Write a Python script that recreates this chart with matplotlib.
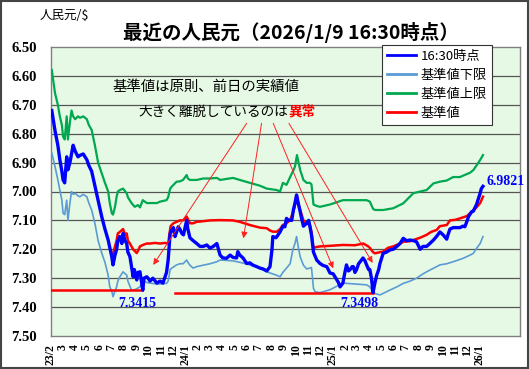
import matplotlib
matplotlib.use('Agg')
import matplotlib.pyplot as plt
import pandas as pd
from matplotlib.patches import Rectangle

plt.rcParams['font.family'] = ['Noto Sans CJK JP', 'DejaVu Sans']

# ---------------- data ----------------
spot_dates = [
    "2023-02-03", "2023-02-11", "2023-02-18", "2023-02-23", "2023-02-28", "2023-03-03", "2023-03-07",
    "2023-03-12", "2023-03-15", "2023-03-20", "2023-03-24", "2023-03-28", "2023-04-02", "2023-04-09",
    "2023-04-14", "2023-04-22", "2023-05-01", "2023-05-06", "2023-05-13", "2023-05-21", "2023-05-29",
    "2023-06-07", "2023-06-15", "2023-06-23", "2023-07-02", "2023-07-05", "2023-07-10", "2023-07-14",
    "2023-07-17", "2023-07-22", "2023-07-27", "2023-07-30", "2023-08-04", "2023-08-08", "2023-08-11",
    "2023-08-16", "2023-08-24", "2023-08-27", "2023-09-02", "2023-09-05", "2023-09-10", "2023-09-17",
    "2023-09-20", "2023-09-27", "2023-09-30", "2023-10-05", "2023-10-12", "2023-10-22", "2023-10-30",
    "2023-11-06", "2023-11-15", "2023-11-19", "2023-11-21", "2023-11-24", "2023-11-28", "2023-12-02",
    "2023-12-06", "2023-12-10", "2023-12-14", "2023-12-18", "2023-12-23", "2023-12-27", "2024-01-04",
    "2024-01-07", "2024-01-12", "2024-01-20", "2024-01-29", "2024-02-06", "2024-02-14", "2024-02-23",
    "2024-03-02", "2024-03-10", "2024-03-19", "2024-03-27", "2024-04-03", "2024-04-12", "2024-04-21",
    "2024-04-28", "2024-05-07", "2024-05-10", "2024-05-15", "2024-05-23", "2024-06-01", "2024-06-09",
    "2024-06-17", "2024-06-26", "2024-07-04", "2024-07-12", "2024-07-21", "2024-07-29", "2024-08-03",
    "2024-08-05", "2024-08-13", "2024-08-23", "2024-08-30", "2024-09-04", "2024-09-08", "2024-09-12",
    "2024-09-21", "2024-09-25", "2024-09-29", "2024-10-03", "2024-10-07", "2024-10-12", "2024-10-15",
    "2024-10-20", "2024-10-28", "2024-11-02", "2024-11-05", "2024-11-09", "2024-11-14", "2024-11-22",
    "2024-11-30", "2024-12-08", "2024-12-17", "2024-12-25", "2025-01-02", "2025-01-11", "2025-01-15",
    "2025-01-19", "2025-01-26", "2025-01-31", "2025-02-04", "2025-02-09", "2025-02-13", "2025-02-18",
    "2025-02-21", "2025-02-25", "2025-03-01", "2025-03-06", "2025-03-10", "2025-03-17", "2025-03-22",
    "2025-03-26", "2025-03-31", "2025-04-03", "2025-04-07", "2025-04-11", "2025-04-15", "2025-04-20",
    "2025-04-25", "2025-04-28", "2025-05-06", "2025-05-14", "2025-05-23", "2025-05-31", "2025-06-09",
    "2025-06-17", "2025-06-25", "2025-07-03", "2025-07-12", "2025-07-20", "2025-07-28", "2025-08-06",
    "2025-08-13", "2025-08-22", "2025-08-30", "2025-09-08", "2025-09-16", "2025-09-24", "2025-10-02",
    "2025-10-11", "2025-10-14", "2025-10-19", "2025-10-27", "2025-11-04", "2025-11-13", "2025-11-20",
    "2025-11-25", "2025-11-30", "2025-12-04", "2025-12-12", "2025-12-16", "2025-12-24", "2026-01-02",
    "2026-01-05", "2026-01-09",
]
spot_values = [
    6.72, 6.79, 6.84, 6.89, 6.93, 6.96, 6.97,
    6.88, 6.925, 6.90, 6.87, 6.84, 6.86, 6.88,
    6.875, 6.87, 6.89, 6.91, 6.93, 6.98, 7.03,
    7.087, 7.13, 7.168, 7.226, 7.254, 7.22, 7.20,
    7.17, 7.156, 7.18, 7.145, 7.17, 7.18, 7.21,
    7.225, 7.295, 7.27, 7.306, 7.28, 7.278, 7.3415,
    7.30, 7.295, 7.30, 7.31, 7.30, 7.317, 7.31,
    7.317, 7.28, 7.237, 7.20, 7.145, 7.133, 7.125,
    7.156, 7.14, 7.122, 7.13, 7.145, 7.15, 7.10,
    7.13, 7.16, 7.17, 7.18, 7.19, 7.19, 7.185,
    7.196, 7.19, 7.18, 7.22, 7.23, 7.231, 7.22,
    7.228, 7.23, 7.208, 7.22, 7.23, 7.249, 7.247,
    7.255, 7.26, 7.265, 7.268, 7.275, 7.26, 7.20,
    7.156, 7.16, 7.14, 7.12, 7.122, 7.093, 7.099,
    7.10, 7.064, 7.04, 7.012, 7.04, 7.07, 7.09,
    7.12, 7.11, 7.10, 7.12, 7.15, 7.21, 7.237,
    7.249, 7.256, 7.26, 7.282, 7.285, 7.306, 7.315,
    7.33, 7.317, 7.28, 7.254, 7.275, 7.27, 7.26,
    7.26, 7.28, 7.27, 7.25, 7.243, 7.23, 7.24,
    7.254, 7.27, 7.27, 7.30, 7.3498, 7.32, 7.29,
    7.27, 7.25, 7.214, 7.21, 7.202, 7.20, 7.19,
    7.18, 7.162, 7.17, 7.168, 7.17, 7.174, 7.20,
    7.19, 7.19, 7.18, 7.168, 7.155, 7.14, 7.15,
    7.165, 7.15, 7.13, 7.125, 7.125, 7.125, 7.12,
    7.122, 7.104, 7.087, 7.07, 7.068, 7.045, 7.006,
    6.99, 6.9821,
]

base_dates = [
    "2023-07-05", "2023-07-10", "2023-07-14", "2023-07-17", "2023-07-22", "2023-07-30", "2023-08-04",
    "2023-08-08", "2023-08-11", "2023-08-16", "2023-08-24", "2023-09-02", "2023-09-05", "2023-09-10",
    "2023-09-17", "2023-09-27", "2023-10-05", "2023-10-17", "2023-10-30", "2023-11-11", "2023-11-19",
    "2023-11-22", "2023-11-25", "2023-12-02", "2023-12-10", "2023-12-18", "2023-12-26", "2024-01-04",
    "2024-01-07", "2024-01-12", "2024-01-20", "2024-01-29", "2024-02-06", "2024-03-02", "2024-03-27",
    "2024-04-28", "2024-05-15", "2024-06-09", "2024-07-04", "2024-07-21", "2024-07-29", "2024-08-05",
    "2024-08-15", "2024-08-23", "2024-08-30", "2024-09-08", "2024-09-17", "2024-09-25", "2024-09-29",
    "2024-10-03", "2024-10-07", "2024-10-12", "2024-10-20", "2024-10-28", "2024-11-05", "2024-11-09",
    "2024-11-14", "2024-11-22", "2024-11-30", "2024-12-25", "2025-01-26", "2025-02-25", "2025-03-18",
    "2025-03-30", "2025-04-03", "2025-04-11", "2025-04-16", "2025-04-28", "2025-05-06", "2025-05-18",
    "2025-05-31", "2025-06-17", "2025-06-25", "2025-07-12", "2025-07-20", "2025-08-06", "2025-08-22",
    "2025-09-02", "2025-09-16", "2025-09-24", "2025-10-11", "2025-10-19", "2025-11-01", "2025-11-13",
    "2025-11-30", "2025-12-08", "2025-12-16", "2025-12-24", "2026-01-02", "2026-01-09",
]
base_values = [
    7.215, 7.19, 7.17, 7.145, 7.14, 7.13, 7.15,
    7.145, 7.17, 7.18, 7.20, 7.213, 7.205, 7.19,
    7.185, 7.18, 7.18, 7.178, 7.18, 7.178, 7.18,
    7.15, 7.12, 7.11, 7.105, 7.10, 7.10, 7.087,
    7.095, 7.11, 7.11, 7.105, 7.104, 7.10, 7.099,
    7.10, 7.105, 7.116, 7.125, 7.127, 7.135, 7.139,
    7.139, 7.13, 7.116, 7.11, 7.099, 7.07, 7.047,
    7.012, 7.04, 7.064, 7.10, 7.11, 7.116, 7.14,
    7.195, 7.192, 7.19, 7.188, 7.185, 7.186, 7.18,
    7.19, 7.195, 7.21, 7.214, 7.21, 7.208, 7.195,
    7.19, 7.18, 7.174, 7.172, 7.168, 7.16, 7.15,
    7.14, 7.133, 7.12, 7.116, 7.10, 7.098, 7.093,
    7.085, 7.075, 7.065, 7.055, 7.04, 7.018,
]

upper_dates = [
    "2023-02-03", "2023-02-11", "2023-02-18", "2023-02-23", "2023-02-28", "2023-03-03", "2023-03-07",
    "2023-03-12", "2023-03-15", "2023-03-20", "2023-03-24", "2023-03-28", "2023-04-02", "2023-04-09",
    "2023-04-14", "2023-04-22", "2023-05-01", "2023-05-06", "2023-05-13", "2023-05-21", "2023-05-29",
    "2023-06-07", "2023-06-15", "2023-06-23", "2023-06-27", "2023-07-02", "2023-07-05", "2023-07-10",
    "2023-07-14", "2023-07-17", "2023-07-22", "2023-07-30", "2023-08-08", "2023-08-11", "2023-08-20",
    "2023-08-28", "2023-09-05", "2023-09-10", "2023-09-17", "2023-09-27", "2023-10-05", "2023-10-22",
    "2023-10-30", "2023-11-15", "2023-11-19", "2023-11-24", "2023-11-28", "2023-12-10", "2023-12-18",
    "2023-12-26", "2024-01-04", "2024-01-07", "2024-01-12", "2024-01-29", "2024-02-14", "2024-03-02",
    "2024-03-19", "2024-03-27", "2024-04-28", "2024-05-15", "2024-06-09", "2024-07-04", "2024-07-21",
    "2024-08-15", "2024-08-23", "2024-08-30", "2024-09-08", "2024-09-17", "2024-09-24", "2024-09-29",
    "2024-10-04", "2024-10-12", "2024-10-20", "2024-10-28", "2024-11-05", "2024-11-09", "2024-11-14",
    "2024-11-22", "2024-11-30", "2024-12-25", "2025-01-26", "2025-02-25", "2025-03-26", "2025-04-03",
    "2025-04-11", "2025-04-16", "2025-05-06", "2025-05-31", "2025-06-25", "2025-07-20", "2025-08-06",
    "2025-08-22", "2025-09-08", "2025-09-24", "2025-10-11", "2025-10-27", "2025-11-13", "2025-11-21",
    "2025-12-08", "2025-12-16", "2025-12-24", "2026-01-02", "2026-01-09",
]
upper_values = [
    6.58, 6.66, 6.70, 6.74, 6.77, 6.81, 6.82,
    6.74, 6.82, 6.76, 6.72, 6.74, 6.75, 6.74,
    6.745, 6.74, 6.75, 6.77, 6.787, 6.84, 6.90,
    6.937, 6.97, 7.00, 7.04, 7.075, 7.08, 7.053,
    7.018, 7.00, 6.995, 6.99, 7.006, 7.02, 7.04,
    7.053, 7.047, 7.055, 7.03, 7.04, 7.04, 7.04,
    7.035, 7.03, 7.02, 6.99, 6.983, 6.966, 6.965,
    6.96, 6.943, 6.955, 6.96, 6.96, 6.955, 6.955,
    6.953, 6.96, 6.953, 6.96, 6.97, 6.98, 6.99,
    6.995, 7.00, 6.97, 6.977, 6.95, 6.93, 6.914,
    6.874, 6.926, 6.96, 6.97, 6.97, 6.975, 7.045,
    7.05, 7.053, 7.045, 7.03, 7.03, 7.03, 7.035,
    7.06, 7.064, 7.064, 7.058, 7.041, 7.006, 7.00,
    6.995, 6.972, 6.966, 6.962, 6.95, 6.95, 6.945,
    6.935, 6.926, 6.91, 6.891, 6.874,
]

lower_dates = [
    "2023-02-03", "2023-02-11", "2023-02-18", "2023-02-23", "2023-02-28", "2023-03-03", "2023-03-07",
    "2023-03-12", "2023-03-15", "2023-03-20", "2023-03-24", "2023-03-28", "2023-04-02", "2023-04-09",
    "2023-04-14", "2023-04-22", "2023-05-01", "2023-05-06", "2023-05-13", "2023-05-21", "2023-05-29",
    "2023-06-07", "2023-06-15", "2023-06-23", "2023-06-27", "2023-07-02", "2023-07-05", "2023-07-10",
    "2023-07-14", "2023-07-17", "2023-07-22", "2023-07-30", "2023-08-08", "2023-08-11", "2023-08-20",
    "2023-08-28", "2023-09-05", "2023-09-10", "2023-09-17", "2023-09-27", "2023-10-05", "2023-10-22",
    "2023-10-30", "2023-11-15", "2023-11-19", "2023-11-24", "2023-11-28", "2023-12-10", "2023-12-18",
    "2023-12-26", "2024-01-04", "2024-01-07", "2024-01-12", "2024-01-20", "2024-01-29", "2024-02-14",
    "2024-03-02", "2024-03-19", "2024-03-27", "2024-04-28", "2024-05-15", "2024-06-09", "2024-07-04",
    "2024-07-21", "2024-08-15", "2024-08-23", "2024-08-30", "2024-09-08", "2024-09-17", "2024-09-24",
    "2024-09-29", "2024-10-03", "2024-10-07", "2024-10-12", "2024-10-20", "2024-10-28", "2024-11-05",
    "2024-11-09", "2024-11-14", "2024-11-18", "2024-11-30", "2024-12-25", "2025-01-26", "2025-02-25",
    "2025-03-26", "2025-04-03", "2025-04-11", "2025-04-20", "2025-04-28", "2025-05-10", "2025-05-23",
    "2025-06-09", "2025-06-25", "2025-07-12", "2025-07-28", "2025-08-13", "2025-08-30", "2025-09-16",
    "2025-09-24", "2025-10-11", "2025-10-27", "2025-11-13", "2025-11-21", "2025-12-08", "2025-12-16",
    "2025-12-24", "2026-01-02", "2026-01-09",
]
lower_values = [
    6.867, 6.914, 6.96, 6.995, 7.03, 7.075, 7.08,
    7.03, 7.10, 7.04, 7.00, 7.01, 7.006, 7.015,
    7.018, 7.01, 7.018, 7.04, 7.064, 7.11, 7.17,
    7.213, 7.245, 7.29, 7.33, 7.345, 7.364, 7.345,
    7.33, 7.31, 7.295, 7.278, 7.289, 7.31, 7.341,
    7.34, 7.334, 7.33, 7.306, 7.315, 7.317, 7.32,
    7.32, 7.318, 7.31, 7.27, 7.265, 7.254, 7.25,
    7.25, 7.237, 7.245, 7.255, 7.265, 7.26, 7.255,
    7.25, 7.243, 7.237, 7.24, 7.245, 7.254, 7.265,
    7.278, 7.29, 7.295, 7.28, 7.265, 7.25, 7.20,
    7.18, 7.156, 7.19, 7.226, 7.255, 7.268, 7.265,
    7.263, 7.335, 7.347, 7.35, 7.34, 7.317, 7.32,
    7.323, 7.33, 7.35, 7.355, 7.358, 7.35, 7.341,
    7.33, 7.318, 7.31, 7.30, 7.285, 7.272, 7.26,
    7.254, 7.25, 7.243, 7.235, 7.231, 7.22, 7.214,
    7.197, 7.18, 7.156,
]

low_2023 = 7.3415
low_2025 = 7.3498
latest = 6.9821

month_labels = ["23/2", "3", "4", "5", "6", "7", "8", "9", "10", "11", "12",
                "24/1", "2", "3", "4", "5", "6", "7", "8", "9", "10", "11", "12",
                "25/1", "2", "3", "4", "5", "6", "7", "8", "9", "10", "11", "12",
                "26/1"]
y_ticks = [6.5, 6.6, 6.7, 6.8, 6.9, 7.0, 7.1, 7.2, 7.3, 7.4, 7.5]

# ---------------- figure ----------------
fig = plt.figure(figsize=(5.29, 3.69), dpi=100)
ax = fig.add_axes([51/529, 33/369, 469/529, 289/369])
ax.set_facecolor('#e6f9e4')

td = lambda s: pd.to_datetime(s)

ax.set_xlim(td("2023-02-01"), td("2026-04-11"))
ax.set_ylim(7.5, 6.5)

for v in y_ticks[1:-1]:
    ax.axhline(v, color='#555555', lw=0.9, zorder=1)

l_lower, = ax.plot(td(lower_dates), lower_values, color='#5b9bd5', lw=1.2, zorder=3, label='基準値下限')
l_upper, = ax.plot(td(upper_dates), upper_values, color='#00a850', lw=1.6, zorder=3, label='基準値上限')
l_base, = ax.plot(td(base_dates), base_values, color='#ff0000', lw=1.8, zorder=4, label='基準値')
l_spot, = ax.plot(td(spot_dates), spot_values, color='#0000ff', lw=2.4, zorder=5, label='16:30時点')

# low reference lines
ax.plot([td("2023-02-01"), td("2023-09-15")], [low_2023, low_2023], color='#ff0000', lw=1.8, zorder=4)
ax.plot([td("2023-12-06"), td("2025-04-11")], [low_2025, low_2025], color='#ff0000', lw=1.8, zorder=4)

serif = dict(family='Liberation Serif', weight='bold', color='#0000ff', fontsize=10)
ax.text(td("2023-09-03"), 7.386, f"{low_2023:.4f}", ha='center', va='center', **serif)
ax.text(td("2025-03-07"), 7.386, f"{low_2025:.4f}", ha='center', va='center', **serif)
ax.text(td("2026-01-19"), 6.966, f"{latest:.4f}", ha='left', va='center', **serif, clip_on=False)

# annotation text
ax.text(td("2023-07-05"), 6.637, "基準値は原則、前日の実績値", ha='left', va='center',
        fontsize=10.4, color='black')
t2 = ax.text(td("2023-09-07"), 6.724, "大きく離脱しているのは", ha='left', va='center',
             fontsize=9.8, color='black')
ax.annotate("異常", xy=(1, 0.5), xycoords=t2, ha='left', va='center', fontsize=9.8,
            color='#ff0000', fontweight='bold')

arrows = [
    (("2024-06-01", 6.764), ("2023-10-13", 7.254)),
    (("2024-07-08", 6.764), ("2024-05-24", 7.162)),
    (("2024-08-06", 6.764), ("2025-01-02", 7.266)),
    (("2024-09-14", 6.764), ("2025-04-10", 7.247)),
]
for (t0, v0), (t1, v1) in arrows:
    ax.annotate("", xy=(td(t1), v1), xytext=(td(t0), v0),
                arrowprops=dict(arrowstyle='-|>', color='#ff2020', lw=0.7,
                                mutation_scale=9, shrinkA=0, shrinkB=0), zorder=6)

# axes styling
ax.set_yticks(y_ticks)
ax.set_yticklabels([f"{v:.2f}" for v in y_ticks])
ticks = pd.date_range("2023-02-01", "2026-01-01", freq='MS')
ax.set_xticks(ticks)
ax.set_xticklabels(month_labels, rotation=90)
for lab in ax.get_yticklabels():
    lab.set_fontfamily('Liberation Serif'); lab.set_fontweight('bold'); lab.set_fontsize(10.5)
for lab in ax.get_xticklabels():
    lab.set_fontfamily('Liberation Serif'); lab.set_fontweight('bold'); lab.set_fontsize(8.5)
    lab.set_va('top'); lab.set_ha('center')
ax.tick_params(axis='y', length=0, pad=10)
ax.tick_params(axis='x', length=0, pad=6)
for sp in ax.spines.values():
    sp.set_color('#808080'); sp.set_linewidth(1.0)

leg = ax.legend(handles=[l_spot, l_lower, l_upper, l_base],
                loc='upper left', bbox_to_anchor=(0.706, 1.008), borderaxespad=0,
                fontsize=9.5, frameon=True, fancybox=False, handlelength=2.2,
                handletextpad=0.3, labelspacing=0.45, borderpad=0.4, framealpha=1)
leg.get_frame().set_edgecolor('#333333')
leg.get_frame().set_linewidth(0.8)
leg.set_zorder(10)
for h in leg.get_lines():
    h.set_linewidth(2.0)

fig.text(0.55, 0.913, "最近の人民元（2026/1/9 16:30時点）", ha='center', va='center',
         fontsize=14, fontweight='bold')
fig.text(40/529, 0.957, "人民元/$", ha='left', va='center', fontsize=9)

fig.add_artist(Rectangle((0.002, 0.003), 0.996, 0.994, transform=fig.transFigure,
                         fill=False, edgecolor='#444444', lw=1.5))

fig.savefig('out.png', dpi=100)
